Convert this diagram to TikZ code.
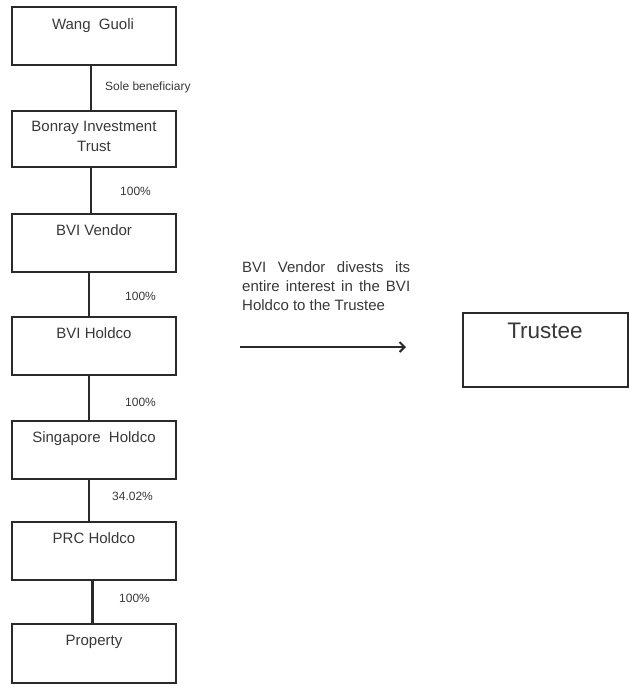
\documentclass[tikz,border=0pt]{standalone}
\usepackage{fontspec}
\setmainfont{Liberation Sans}
\usetikzlibrary{arrows.meta}
\definecolor{ink}{HTML}{2A2A2A}
\definecolor{txt}{HTML}{383838}
\begin{document}
\begin{tikzpicture}[x=1pt,y=-1pt,
  box/.style={draw=ink, line width=1.3pt, minimum width=164pt, inner sep=0pt},
  boxtext/.style={text=txt, inner sep=0pt, anchor=base, font=\fontsize{15}{20}\selectfont, align=center},
  conn/.style={draw=ink},
  pct/.style={text=txt, inner sep=0pt, anchor=base west, font=\fontsize{12}{14}\selectfont}]
\useasboundingbox (0,0) rectangle (629,691);

% ownership chain boxes
\node[box, minimum height=58pt] (wang)   at (94,36)    {};
\node[box, minimum height=56pt] (bonray) at (94,139)   {};
\node[box, minimum height=58pt] (vendor) at (94,243)   {};
\node[box, minimum height=58pt] (holdco) at (94,346)   {};
\node[box, minimum height=58pt] (sing)   at (94,450)   {};
\node[box, minimum height=58pt] (prc)    at (94,551)   {};
\node[box, minimum height=59pt] (prop)   at (94,653.5) {};

% box captions (a two-line caption is anchored on its last baseline)
\node[boxtext] (wangT)   at (93,29.3)  {Wang\ \ Guoli};
\node[boxtext] (bonrayT) at (94,151.7) {Bonray Investment\\Trust};
\node[boxtext] (vendorT) at (94,235)   {BVI Vendor};
\node[boxtext] (holdcoT) at (94,338)   {BVI Holdco};
\node[boxtext] (singT)   at (94,442)   {Singapore\ \ Holdco};
\node[boxtext] (prcT)    at (94,543)   {PRC Holdco};
\node[boxtext] (propT)   at (94,645)   {Property};

% connectors
\draw[conn, line width=2.6pt] ([xshift=-3pt]wang.south)   -- ([xshift=-3pt]bonray.north);
\draw[conn, line width=2.6pt] ([xshift=-3pt]bonray.south) -- ([xshift=-3pt]vendor.north);
\draw[conn, line width=1.7pt] ([xshift=-4.7pt]vendor.south) -- ([xshift=-4.7pt]holdco.north);
\draw[conn, line width=1.7pt] ([xshift=-4.7pt]holdco.south) -- ([xshift=-4.7pt]sing.north);
\draw[conn, line width=1.6pt] ([xshift=-5.3pt]sing.south)   -- ([xshift=-5.3pt]prc.north);
\draw[conn, line width=2.6pt] ([xshift=-1.7pt]prc.south)    -- ([xshift=-1.7pt]prop.north);

% connector labels
\node[pct] (l1) at (105,90.7)  {Sole beneficiary};
\node[pct] (l2) at (120,195)   {100\%};
\node[pct] (l3) at (125,300.7) {100\%};
\node[pct] (l4) at (125,406)   {100\%};
\node[pct] (l5) at (112,500.7) {34.02\%};
\node[pct] (l6) at (119,602)   {100\%};

% transfer to the trustee
\node[text=txt, anchor=north west, inner sep=0pt, text width=168pt, align=justify,
      font=\fontsize{15}{19}\selectfont] (note) at (242,261.5)
  {BVI Vendor divests its\linebreak entire interest in the BVI\linebreak Holdco to the Trustee};
\coordinate (arrS) at (240,347);
\coordinate (arrE) at (406,347);
\draw[ink, line width=1.9pt, -{Straight Barb[length=5pt,width=10pt,line width=2pt]}] (arrS) -- (arrE);

\node[box, minimum width=165pt, minimum height=74pt] (trustee) at (545.5,350) {};
\node[text=txt, inner sep=0pt, anchor=base, font=\fontsize{22.5}{26}\selectfont] (trusteeT) at (545,338.3) {Trustee};
\end{tikzpicture}
\end{document}
